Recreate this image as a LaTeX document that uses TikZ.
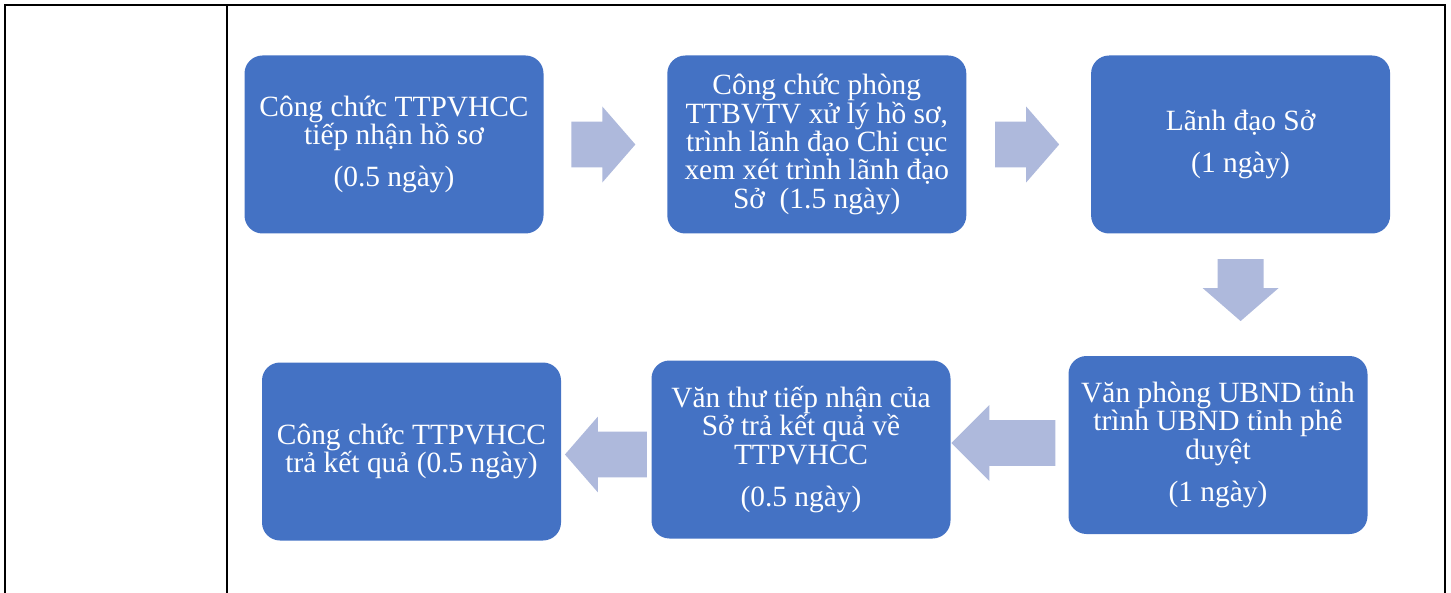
\documentclass[tikz,border=0pt]{standalone}
\usepackage{fontspec}
\setmainfont{Liberation Serif}
\usetikzlibrary{shapes.arrows,positioning,calc}
\definecolor{stageblue}{HTML}{4472C4}
\definecolor{flowblue}{HTML}{AEB9DC}

\begin{document}
\begin{tikzpicture}[x=0.5pt,y=-0.5pt,align=center]
\tikzstyle{stage}=[rectangle,rounded corners=9pt,fill=stageblue,text=white,minimum width=149.5pt,minimum height=89pt,inner sep=2pt,font=\fontsize{14.7}{14.2}\selectfont]
\tikzstyle{flow}=[single arrow,fill=flowblue,anchor=tip,single arrow head extend=7.5pt,single arrow tip angle=98,single arrow head indent=0pt,inner xsep=0pt,inner ysep=11.25pt]
\tikzstyle{rule}=[line width=1pt]

\useasboundingbox (0,0) rectangle (1451,593);
\draw[rule] (5,593) -- (5,5) -- (1445,5) -- (1445,593);
\draw[rule] (227,5) -- (227,593);

\node[stage] (s1) at (394,144.5) {Công chức TTPVHCC\\tiếp nhận hồ sơ\\[7pt](0.5 ngày)};
\node[stage] (s2) [right = 61.5pt of s1] {Công chức phòng\\TTBVTV xử lý hồ sơ,\\trình lãnh đạo Chi cục\\xem xét trình lãnh đạo\\Sở~ (1.5 ngày)};
\node[stage] (s3) [right = 62pt of s2] {Lãnh đạo Sở\\[7pt](1 ngày)};
\node[stage] (s4) at (1218,445) {Văn phòng UBND tỉnh\\trình UBND tỉnh phê\\duyệt\\[7pt](1 ngày)};
\node[stage] (s5) at (801,449.5) {Văn thư tiếp nhận của\\Sở trả kết quả về\\TTPVHCC\\[7pt](0.5 ngày)};
\node[stage] (s6) at (411.5,451.5) {Công chức TTPVHCC\\trả kết quả (0.5 ngày)};

\node[flow,minimum height=32pt] (a1) at ($(s2.west)+(-31,0)$) {};
\node[flow,minimum height=32pt] (a2) at ($(s3.west)+(-31,0)$) {};
\node[flow,minimum height=31pt,rotate=-90] (a3) at ($(s3.south |- s4.north)+(0,-34)$) {};
\node[flow,minimum height=52pt,rotate=180,single arrow tip angle=90] (a4) at ($(s5.east)+(0,-6.5)$) {};
\node[flow,minimum height=41pt,rotate=180] (a5) at ($(s6.east)+(3,3)$) {};
\end{tikzpicture}
\end{document}
